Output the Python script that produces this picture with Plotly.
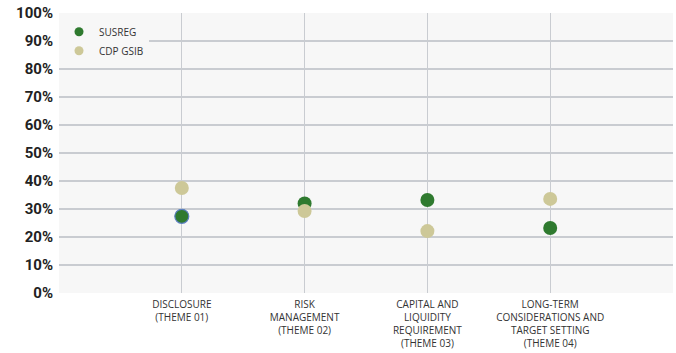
import plotly.graph_objects as go

categories = [
    "DISCLOSURE<br>(THEME 01)",
    "RISK<br>MANAGEMENT<br>(THEME 02)",
    "CAPITAL AND<br>LIQUIDITY<br>REQUIREMENT<br>(THEME 03)",
    "LONG-TERM<br>CONSIDERATIONS AND<br>TARGET SETTING<br>(THEME 04)",
]
susreg = [27.4, 32.0, 33.2, 23.2]
cdp_gsib = [37.5, 29.3, 22.1, 33.6]
y_ticks = [0, 10, 20, 30, 40, 50, 60, 70, 80, 90, 100]
y_tick_labels = [f"{v}%" for v in y_ticks]

GREEN = "#2f7a2f"
BEIGE = "#cdc898"
GRID = "#c9ccd1"
PLOT_BG = "#f7f7f7"

fig = go.Figure()
fig.add_trace(go.Scatter(
    x=categories, y=susreg, name="SUSREG", mode="markers", showlegend=False,
    marker=dict(color=GREEN, size=14,
                line=dict(color=["#5b7fc0", GREEN, GREEN, GREEN], width=[1.2, 0, 0, 0])),
))
fig.add_trace(go.Scatter(
    x=categories, y=cdp_gsib, name="CDP GSIB", mode="markers", showlegend=False,
    marker=dict(color=BEIGE, size=14, line=dict(width=0)),
))
# legend entries with smaller symbols
fig.add_trace(go.Scatter(x=[None], y=[None], name="SUSREG", mode="markers",
                         marker=dict(color=GREEN, size=9)))
fig.add_trace(go.Scatter(x=[None], y=[None], name="CDP GSIB", mode="markers",
                         marker=dict(color=BEIGE, size=9)))

fig.update_layout(
    width=676, height=353,
    margin=dict(l=59, r=3, t=13, b=60),
    paper_bgcolor="white",
    plot_bgcolor=PLOT_BG,
    showlegend=True,
    legend=dict(
        x=0.0, y=0.985, xanchor="left", yanchor="top",
        bgcolor=PLOT_BG, borderwidth=0,
        font=dict(family="Open Sans, sans-serif", size=10, color="#333333"),
        itemwidth=30, tracegroupgap=0,
    ),
    font=dict(family="Open Sans, sans-serif", color="#333333"),
)
fig.update_xaxes(
    type="category", range=[-1, 4],
    showgrid=True, gridcolor=GRID, gridwidth=1,
    showline=False, zeroline=False, ticks="",
    tickfont=dict(family="Open Sans, sans-serif", size=10, color="#333333"),
    ticklabelstandoff=4,
    fixedrange=True,
)
fig.update_yaxes(
    range=[0, 100], tickvals=y_ticks, ticktext=y_tick_labels,
    showgrid=True, gridcolor=GRID, gridwidth=1.5,
    zeroline=False, showline=False, ticks="",
    tickfont=dict(family="Roboto, DejaVu Sans Condensed, sans-serif",
                  size=15, color="#222222", weight="bold"),
    ticklabelstandoff=5,
    fixedrange=True,
)

fig.write_html("out.html", config={"displayModeBar": False})
